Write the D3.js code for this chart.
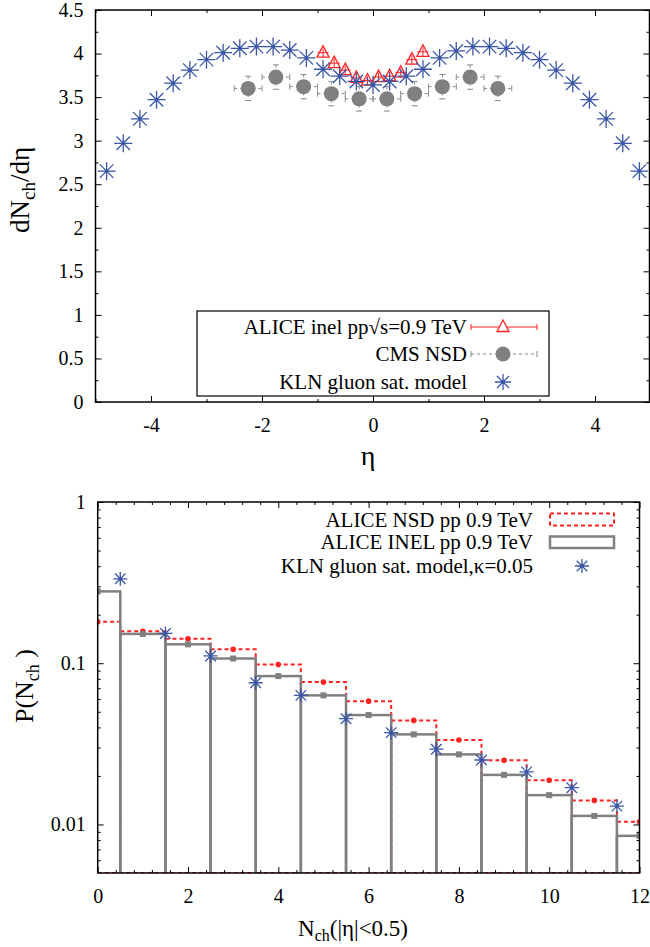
<!DOCTYPE html>
<html>
<head>
<meta charset="utf-8">
<script src="https://cdn.jsdelivr.net/npm/d3@7"></script>
<style>
  body { margin: 0; background: #fff; }
  text { font-family: "Liberation Serif", "DejaVu Serif", serif; fill: #000; }
  .axis path { display: none; }
  .axis line { stroke: #000; stroke-width: 1; }
</style>
</head>
<body>
<div id="chart"></div>
<script>
// ---- top panel data: dN_ch/d eta vs eta ----
const klnEta = [-4.8, -4.5, -4.2, -3.9, -3.6, -3.3, -3.0, -2.7, -2.4, -2.1, -1.8, -1.5, -1.2, -0.9, -0.6, -0.3, 0,
                0.3, 0.6, 0.9, 1.2, 1.5, 1.8, 2.1, 2.4, 2.7, 3.0, 3.3, 3.6, 3.9, 4.2, 4.5, 4.8];
const klnDndeta = [2.65, 2.97, 3.25, 3.47, 3.66, 3.81, 3.93, 4.01, 4.06, 4.08, 4.08, 4.04, 3.95, 3.82, 3.74, 3.68, 3.64,
                   3.68, 3.74, 3.82, 3.95, 4.03, 4.08, 4.08, 4.06, 4.01, 3.93, 3.81, 3.66, 3.47, 3.25, 2.97, 2.65];
const aliceEta = [-0.9, -0.7, -0.5, -0.3, -0.1, 0.1, 0.3, 0.5, 0.7, 0.9];
const aliceDndeta = [4.01, 3.89, 3.81, 3.72, 3.69, 3.73, 3.74, 3.78, 3.93, 4.02];
const cmsEta = [-2.25, -1.75, -1.25, -0.75, -0.25, 0.25, 0.75, 1.25, 1.75, 2.25];
const cmsDndeta = [3.60, 3.73, 3.62, 3.54, 3.48, 3.48, 3.54, 3.62, 3.73, 3.60];
const topXTicks = [-4, -2, 0, 2, 4];
const topYTicks = [0, 0.5, 1, 1.5, 2, 2.5, 3, 3.5, 4, 4.5];

// ---- bottom panel data: multiplicity distribution ----
const nch = [0, 1, 2, 3, 4, 5, 6, 7, 8, 9, 10, 11, 12];
const pInel = [0.279, 0.152, 0.131, 0.107, 0.0832, 0.0632, 0.0477, 0.0362, 0.0272, 0.0203, 0.0152, 0.0113, 0.0085];
const pNsd = [0.181, 0.158, 0.142, 0.122, 0.0983, 0.0764, 0.0582, 0.0442, 0.0334, 0.0250, 0.0188, 0.0141, 0.0104];
const klnN = [0.5, 1.5, 2.5, 3.5, 4.5, 5.5, 6.5, 7.5, 8.5, 9.5, 10.5, 11.5];
const klnP = [0.334, 0.153, 0.111, 0.0757, 0.0632, 0.0453, 0.0371, 0.0293, 0.0251, 0.0212, 0.0169, 0.0130];
const botXTicks = [0, 2, 4, 6, 8, 10, 12];
const botYTicks = [0.01, 0.1, 1];

const W = 650, H = 947;
const serif = "'Liberation Serif', 'DejaVu Serif', serif";
const svg = d3.select("#chart").append("svg").attr("width", W).attr("height", H);

const blue = "#3b56a6", red = "#f22", gray = "#808080";

// 8-arm star path
function starPath(r) {
    const d = r * 0.75;
    return `M${-r},0L${r},0M0,${-r}L0,${r}M${-d},${-d}L${d},${d}M${-d},${d}L${d},${-d}`;
}
function drawStar(g, x, y, r) {
    const s = g.append("g").attr("transform", `translate(${x},${y})`);
    s.append("path").attr("d", starPath(r)).attr("stroke", blue).attr("stroke-width", 1.3).attr("fill", "none");
    s.append("circle").attr("r", 1.6).attr("fill", blue);
}
function styleAxis(g) {
    g.attr("font-family", serif).attr("font-size", 20);
    g.selectAll("text").attr("fill", "#000");
}

// =================== TOP PANEL ===================
const xT = d3.scaleLinear().domain([-5, 5]).range([95.5, 650.5]);
const yT = d3.scaleLinear().domain([0, 4.5]).range([402, 10]);
const topG = svg.append("g");

const topXMinor = d3.range(-5, 5.01, 1).filter(v => topXTicks.indexOf(v) < 0);
const topYMinor = d3.range(0.25, 4.5, 0.5);

topG.append("g").attr("class", "axis").attr("transform", `translate(0,${yT(0)})`)
    .call(d3.axisBottom(xT).tickValues(topXTicks).tickSize(-6).tickPadding(16).tickFormat(d => String(d))).call(styleAxis);
topG.append("g").attr("class", "axis").attr("transform", `translate(0,${yT(0)})`)
    .call(d3.axisBottom(xT).tickValues(topXMinor).tickSize(-3).tickFormat(""));
topG.append("g").attr("class", "axis").attr("transform", `translate(0,${yT(4.5)})`)
    .call(d3.axisTop(xT).tickValues(topXTicks).tickSize(-6).tickFormat(""));
topG.append("g").attr("class", "axis").attr("transform", `translate(0,${yT(4.5)})`)
    .call(d3.axisTop(xT).tickValues(topXMinor).tickSize(-3).tickFormat(""));
topG.append("g").attr("class", "axis").attr("transform", `translate(${xT(-5)},0)`)
    .call(d3.axisLeft(yT).tickValues(topYTicks).tickSize(-6).tickPadding(12).tickFormat(d => String(d))).call(styleAxis);
topG.append("g").attr("class", "axis").attr("transform", `translate(${xT(-5)},0)`)
    .call(d3.axisLeft(yT).tickValues(topYMinor).tickSize(-3).tickFormat(""));
topG.append("g").attr("class", "axis").attr("transform", `translate(${xT(5) - 1},0)`)
    .call(d3.axisRight(yT).tickValues(topYTicks).tickSize(-6).tickFormat(""));
topG.append("g").attr("class", "axis").attr("transform", `translate(${xT(5) - 1},0)`)
    .call(d3.axisRight(yT).tickValues(topYMinor).tickSize(-3).tickFormat(""));

// frame
topG.append("rect").attr("x", xT(-5)).attr("y", yT(4.5))
    .attr("width", xT(5) - xT(-5) - 1).attr("height", yT(0) - yT(4.5))
    .attr("fill", "none").attr("stroke", "#000").attr("stroke-width", 1.5);

// CMS: gray circles with dashed error bars
const cms = topG.append("g");
cmsEta.forEach((e, i) => {
    const cx = xT(e), cy = yT(cmsDndeta[i]);
    const ex0 = xT(e - 0.25), ex1 = xT(e + 0.25), ey0 = yT(cmsDndeta[i] + 0.14), ey1 = yT(cmsDndeta[i] - 0.14);
    cms.append("line").attr("x1", ex0).attr("x2", ex1).attr("y1", cy).attr("y2", cy)
        .attr("stroke", "#888").attr("stroke-dasharray", "3,3").attr("stroke-width", 1);
    cms.append("line").attr("x1", cx).attr("x2", cx).attr("y1", ey0).attr("y2", ey1)
        .attr("stroke", "#888").attr("stroke-dasharray", "3,3").attr("stroke-width", 1);
    [ex0, ex1].forEach(x => cms.append("line").attr("x1", x).attr("x2", x).attr("y1", cy - 3).attr("y2", cy + 3)
        .attr("stroke", "#888").attr("stroke-width", 1));
    [ey0, ey1].forEach(y => cms.append("line").attr("x1", cx - 3).attr("x2", cx + 3).attr("y1", y).attr("y2", y)
        .attr("stroke", "#888").attr("stroke-width", 1));
    cms.append("circle").attr("cx", cx).attr("cy", cy).attr("r", 7.5).attr("fill", gray);
});

// ALICE: open red triangles with error bars
const triPath = "M0,-7L6,4.5L-6,4.5Z";
const alice = topG.append("g");
aliceEta.forEach((e, i) => {
    const cx = xT(e), cy = yT(aliceDndeta[i]);
    alice.append("line").attr("x1", xT(e - 0.1)).attr("x2", xT(e + 0.1)).attr("y1", cy).attr("y2", cy)
        .attr("stroke", red).attr("stroke-width", 1);
    alice.append("line").attr("x1", cx).attr("x2", cx).attr("y1", yT(aliceDndeta[i] + 0.05)).attr("y2", yT(aliceDndeta[i] - 0.05))
        .attr("stroke", red).attr("stroke-width", 1);
    alice.append("path").attr("d", triPath).attr("transform", `translate(${cx},${cy})`)
        .attr("fill", "none").attr("stroke", red).attr("stroke-width", 1.3);
});

// KLN stars
const kln = topG.append("g");
klnEta.forEach((e, i) => drawStar(kln, xT(e), yT(klnDndeta[i]), 9));

// top legend
const lg = topG.append("g");
lg.append("rect").attr("x", 197).attr("y", 311).attr("width", 352).attr("height", 85)
    .attr("fill", "#fff").attr("stroke", "#000").attr("stroke-width", 1.2);
const lgText = ["ALICE inel pp\u221As=0.9 TeV", "CMS NSD", "KLN gluon sat. model"];
const lgY = [327, 354, 382];
lgText.forEach((t, i) => lg.append("text").attr("x", 467).attr("y", lgY[i] + 7)
    .attr("text-anchor", "end").attr("font-size", 21).text(t));
lg.append("line").attr("x1", 471).attr("x2", 537).attr("y1", lgY[0]).attr("y2", lgY[0]).attr("stroke", red);
[471, 537].forEach(x => lg.append("line").attr("x1", x).attr("x2", x).attr("y1", lgY[0] - 3).attr("y2", lgY[0] + 3).attr("stroke", red));
lg.append("path").attr("d", triPath).attr("transform", `translate(503,${lgY[0]})`)
    .attr("fill", "#fff").attr("stroke", red).attr("stroke-width", 1.3);
lg.append("line").attr("x1", 471).attr("x2", 537).attr("y1", lgY[1]).attr("y2", lgY[1])
    .attr("stroke", "#888").attr("stroke-dasharray", "3,3");
[471, 537].forEach(x => lg.append("line").attr("x1", x).attr("x2", x).attr("y1", lgY[1] - 3).attr("y2", lgY[1] + 3).attr("stroke", "#888"));
lg.append("circle").attr("cx", 503).attr("cy", lgY[1]).attr("r", 7.5).attr("fill", gray);
drawStar(lg, 503, lgY[2], 8);

// top axis labels
topG.append("text").attr("x", 368).attr("y", 465).attr("text-anchor", "middle").attr("font-size", 28).text("\u03B7");
const yl = topG.append("text").attr("transform", "translate(29,190) rotate(-90)")
    .attr("text-anchor", "middle").attr("font-size", 27);
yl.append("tspan").text("dN");
yl.append("tspan").attr("font-size", 19).attr("dy", 6).text("ch");
yl.append("tspan").attr("dy", -6).text("/d\u03B7");

// =================== BOTTOM PANEL ===================
const xB = d3.scaleLinear().domain([0, 12]).range([97.7, 639.5]);
const yB = d3.scaleLog().domain([0.005, 1]).range([873, 502]);
const bot = svg.append("g");

const botXMinor = d3.range(0, 12.01, 0.4).filter(v => Math.abs(v / 2 - Math.round(v / 2)) > 0.01);
const botYMinor = [0.006, 0.007, 0.008, 0.009, 0.02, 0.03, 0.04, 0.05, 0.06, 0.07, 0.08, 0.09,
                   0.2, 0.3, 0.4, 0.5, 0.6, 0.7, 0.8, 0.9];

// boxes (histograms), clipped to the frame
bot.append("clipPath").attr("id", "clipB").append("rect")
    .attr("x", xB(0)).attr("y", yB(1)).attr("width", xB(12) - xB(0)).attr("height", yB(0.005) - yB(1));
const hist = bot.append("g").attr("clip-path", "url(#clipB)");

nch.forEach((n, i) => {
    hist.append("rect").attr("x", xB(n - 0.5)).attr("y", yB(pNsd[i]))
        .attr("width", xB(n + 0.5) - xB(n - 0.5)).attr("height", yB(0.005) - yB(pNsd[i]))
        .attr("fill", "none").attr("stroke", red).attr("stroke-width", 2).attr("stroke-dasharray", "4,3");
});
nch.forEach((n, i) => {
    hist.append("rect").attr("x", xB(n - 0.5)).attr("y", yB(pInel[i]))
        .attr("width", xB(n + 0.5) - xB(n - 0.5)).attr("height", yB(0.005) - yB(pInel[i]) + 3)
        .attr("fill", "none").attr("stroke", gray).attr("stroke-width", 2.5);
});
nch.forEach((n, i) => {
    hist.append("circle").attr("cx", xB(n)).attr("cy", yB(pNsd[i])).attr("r", 2.8).attr("fill", red);
    hist.append("rect").attr("x", xB(n) - 3).attr("y", yB(pInel[i]) - 3).attr("width", 6).attr("height", 6).attr("fill", gray);
});
klnN.forEach((n, i) => drawStar(bot, xB(n), yB(klnP[i]), 7));

bot.append("g").attr("class", "axis").attr("transform", `translate(0,${yB(0.005)})`)
    .call(d3.axisBottom(xB).tickValues(botXTicks).tickSize(-6).tickPadding(16).tickFormat(d => String(d))).call(styleAxis);
bot.append("g").attr("class", "axis").attr("transform", `translate(0,${yB(0.005)})`)
    .call(d3.axisBottom(xB).tickValues(botXMinor).tickSize(-3).tickFormat(""));
bot.append("g").attr("class", "axis").attr("transform", `translate(0,${yB(1)})`)
    .call(d3.axisTop(xB).tickValues(botXTicks).tickSize(-6).tickFormat(""));
bot.append("g").attr("class", "axis").attr("transform", `translate(0,${yB(1)})`)
    .call(d3.axisTop(xB).tickValues(botXMinor).tickSize(-3).tickFormat(""));
bot.append("g").attr("class", "axis").attr("transform", `translate(${xB(0)},0)`)
    .call(d3.axisLeft(yB).tickValues(botYTicks).tickSize(-6).tickPadding(12).tickFormat(d => String(d))).call(styleAxis);
bot.append("g").attr("class", "axis").attr("transform", `translate(${xB(0)},0)`)
    .call(d3.axisLeft(yB).tickValues(botYMinor).tickSize(-3).tickFormat(""));
bot.append("g").attr("class", "axis").attr("transform", `translate(${xB(12)},0)`)
    .call(d3.axisRight(yB).tickValues(botYTicks).tickSize(-6).tickFormat(""));
bot.append("g").attr("class", "axis").attr("transform", `translate(${xB(12)},0)`)
    .call(d3.axisRight(yB).tickValues(botYMinor).tickSize(-3).tickFormat(""));

bot.append("rect").attr("x", xB(0)).attr("y", yB(1))
    .attr("width", xB(12) - xB(0)).attr("height", yB(0.005) - yB(1))
    .attr("fill", "none").attr("stroke", "#000").attr("stroke-width", 1.5);

// bottom legend (no box)
const lb = bot.append("g");
const lbText = ["ALICE NSD pp 0.9 TeV", "ALICE INEL pp 0.9 TeV", "KLN gluon sat. model,\u03BA=0.05"];
const lbY = [519.5, 542, 566];
lbText.forEach((t, i) => lb.append("text").attr("x", 533).attr("y", lbY[i] + 7)
    .attr("text-anchor", "end").attr("font-size", 21).text(t));
lb.append("rect").attr("x", 550).attr("y", 513.5).attr("width", 64).attr("height", 12)
    .attr("fill", "none").attr("stroke", red).attr("stroke-width", 2).attr("stroke-dasharray", "4,3");
lb.append("rect").attr("x", 550).attr("y", 536.5).attr("width", 64).attr("height", 11.5)
    .attr("fill", "none").attr("stroke", gray).attr("stroke-width", 2.5);
drawStar(lb, 582, lbY[2], 7);

// bottom axis labels
const xl = bot.append("text").attr("x", 298).attr("y", 936).attr("font-size", 23);
xl.append("tspan").text("N");
xl.append("tspan").attr("font-size", 16).attr("dy", 5).text("ch");
xl.append("tspan").attr("dy", -5).text("(|\u03B7|<0.5)");
const yl2 = bot.append("text").attr("transform", "translate(33,686) rotate(-90)")
    .attr("text-anchor", "middle").attr("font-size", 26);
yl2.append("tspan").text("P(N");
yl2.append("tspan").attr("font-size", 18).attr("dy", 6).text("ch");
yl2.append("tspan").attr("dy", -6).text(" )");
</script>
</body>
</html>
